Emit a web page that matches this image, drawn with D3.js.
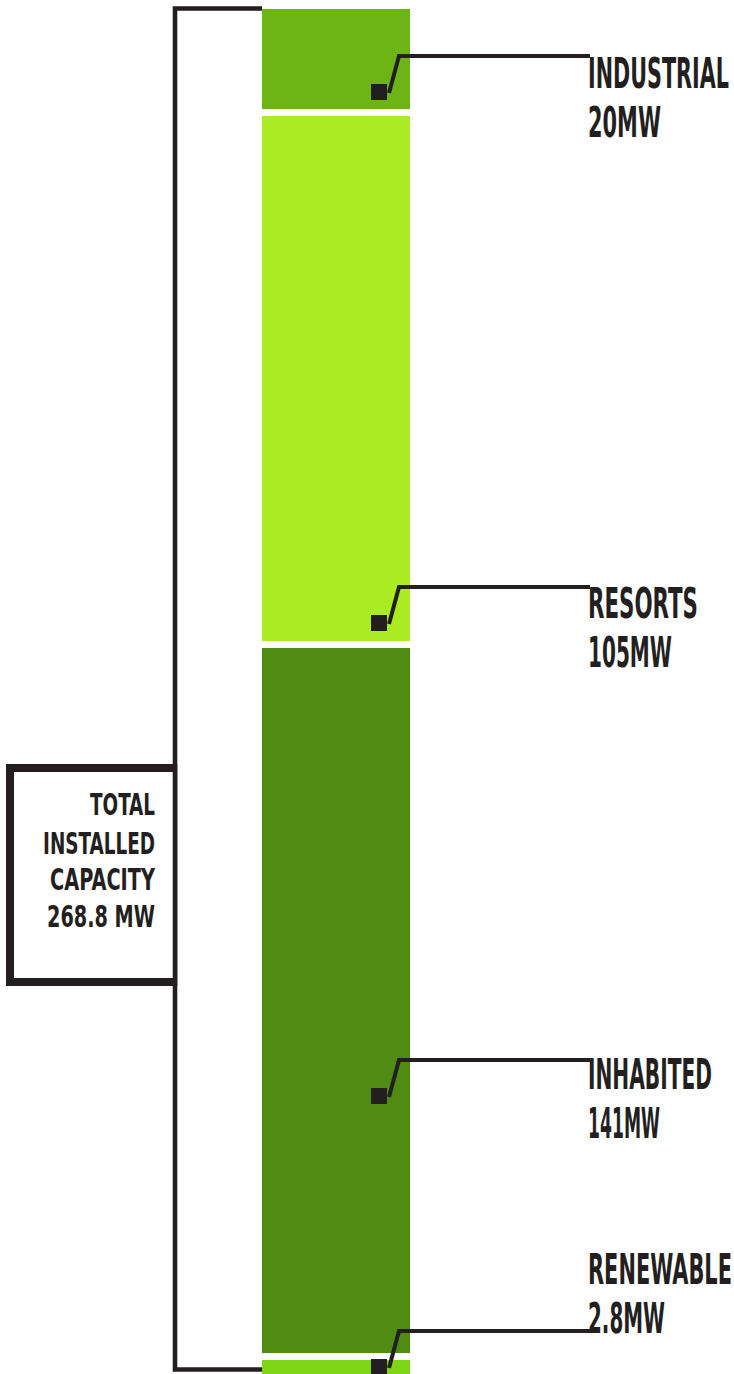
<!DOCTYPE html>
<html>
<head>
<meta charset="utf-8">
<script src="https://cdn.jsdelivr.net/npm/d3@7"></script>
<style>
  html, body { margin: 0; padding: 0; background: #ffffff; }
  svg { display: block; }
  text { font-family: "Liberation Sans Narrow", "DejaVu Sans Condensed", "Liberation Sans", sans-serif; font-weight: bold; fill: #231f20; }
</style>
</head>
<body>
<svg id="chart" width="734" height="1374"></svg>
<script>
// ---- data ----
const categories = ["INDUSTRIAL", "RESORTS", "INHABITED", "RENEWABLE"];
const values = [20, 105, 141, 2.8];
const colors = ["#6db514", "#abeb22", "#508b14", "#7fd614"];
const totalLines = ["TOTAL", "INSTALLED", "CAPACITY"];

// ---- layout ----
const leaderY = [56, 587, 1060, 1331];          // leader line y per label
const nameBaseY = [88, 618, 1089, 1284];        // label name baseline
const nameWidth = [141, 110, 124, 144];
const valueWidth = [73, 84, 72, 77];
const totalWidths = [65, 112, 105, 108];

const total = d3.sum(values);
const svg = d3.select("#chart");
const ink = "#231f20";

const barX = 262, barW = 148, barTop = 9, gap = 7;
const y = d3.scaleLinear().domain([0, total]).range([0, total * 5]);

// fit text horizontally to a width by scaling (anchor: start or end)
function fitText(sel, x, yy, width, anchor) {
  sel.each(function(d, i) {
    const t = d3.select(this);
    const w = typeof width === "function" ? width(d, i) : width;
    const ty = typeof yy === "function" ? yy(d, i) : yy;
    const nat = this.getComputedTextLength();
    const s = w / nat;
    t.attr("x", 0).attr("y", 0)
     .attr("text-anchor", anchor)
     .attr("transform", `translate(${x},${ty}) scale(${s},1)`);
  });
}

// stacked segments
let acc = 0;
const segs = values.map((v, i) => {
  const s = { i, v, y0: barTop + y(acc) + i * gap, h: y(v) };
  acc += v;
  return s;
});

svg.selectAll("rect.seg").data(segs).join("rect")
  .attr("class", "seg")
  .attr("x", barX).attr("width", barW)
  .attr("y", d => d.y0).attr("height", d => d.h)
  .attr("fill", d => colors[d.i]);

// bracket
const bTop = 8.5, bBot = 1369.5, bX = 175;
svg.append("path")
  .attr("d", `M${barX},${bTop} H${bX} V${bBot} H${barX}`)
  .attr("fill", "none").attr("stroke", ink).attr("stroke-width", 4.6)
  .attr("stroke-linejoin", "miter");

// total box
svg.append("path")
  .attr("d", `M${bX},768 H10 V982 H${bX}`)
  .attr("fill", "#fff").attr("stroke", ink).attr("stroke-width", 8)
  .attr("stroke-linejoin", "miter");
svg.append("line").attr("x1", bX).attr("x2", bX).attr("y1", 764).attr("y2", 986)
  .attr("stroke", ink).attr("stroke-width", 4.6);

const boxText = totalLines.concat([d3.format(".1f")(total) + " MW"]);
const boxBase = [815, 854, 890, 927];
svg.selectAll("text.tot").data(boxText).join("text")
  .attr("class", "tot")
  .attr("font-size", 30)
  .text(d => d)
  .call(fitText, 155, (d, i) => boxBase[i], (d, i) => totalWidths[i], "end");

// leaders
const g = svg.selectAll("g.lab").data(segs).join("g").attr("class", "lab");
g.append("path")
  .attr("d", d => { const y0 = leaderY[d.i]; return `M590,${y0} H399 L389,${y0 + 37}`; })
  .attr("fill", "none").attr("stroke", ink).attr("stroke-width", 4)
  .attr("stroke-linejoin", "miter");
g.append("rect")
  .attr("x", 371).attr("y", d => leaderY[d.i] + 28)
  .attr("width", 16).attr("height", 16)
  .attr("fill", ink);
g.append("text")
  .attr("font-size", 42)
  .text(d => categories[d.i])
  .call(fitText, 588, d => nameBaseY[d.i], d => nameWidth[d.i], "start");
g.append("text")
  .attr("font-size", 42)
  .text(d => d.v + "MW")
  .call(fitText, 588, d => nameBaseY[d.i] + 49, d => valueWidth[d.i], "start");
</script>
</body>
</html>
